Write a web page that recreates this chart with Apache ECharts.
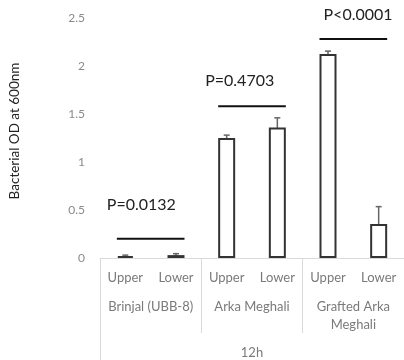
<!DOCTYPE html>
<html><head><meta charset="utf-8">
<script src="https://cdn.jsdelivr.net/npm/echarts@6/dist/echarts.min.js"></script>
<style>html,body{margin:0;padding:0;background:#fff}#c{width:404px;height:360px}</style>
</head><body><div id="c"></div>
<script>
const categories = ['Upper','Lower','Upper','Lower','Upper','Lower'];
const groups = ['Brinjal (UBB-8)','Arka Meghali','Grafted Arka\nMeghali'];
const timeLabel = ['12h'];
const means = [0.02, 0.03, 1.25, 1.36, 2.125, 0.355];
const errors = [0.01, 0.015, 0.03, 0.1, 0.03, 0.18];
const pLabels = ['P=0.0132','P=0.4703','P<0.0001'];
const pPairs = [[0,1],[2,3],[4,5]];
const pLineY = [0.2, 1.58, 2.28];
const pTextY = [0.55, 1.85, 2.53];
const yTicks = {min:0, max:2.5, interval:0.5};

const FONT = 'Lato';
const chart = echarts.init(document.getElementById('c'), null, {renderer:'canvas'});
const textDx = [-10, -13, 4];
chart.setOption({
  animation:false,
  backgroundColor:'#fff',
  grid:{left:100, top:18, bottom:102, width:309, containLabel:false},
  xAxis:[
    {type:'category', data:categories, position:'bottom',
     axisLine:{show:true, lineStyle:{color:'#d9d9d9', width:1}},
     axisTick:{show:false},
     axisLabel:{color:'#7a7a7a', fontFamily:FONT, fontSize:13, margin:13, interval:0}},
    {type:'category', data:groups, position:'bottom',
     axisLine:{show:false},
     axisTick:{show:true, length:75, interval:0, lineStyle:{color:'#d9d9d9'}},
     axisLabel:{color:'#7a7a7a', fontFamily:FONT, fontSize:13, margin:40, lineHeight:18, interval:0, verticalAlign:'top'}},
    {type:'category', data:timeLabel, position:'bottom',
     axisLine:{show:false},
     axisTick:{show:true, length:110, lineStyle:{color:'#d9d9d9'}},
     axisLabel:{color:'#7a7a7a', fontFamily:FONT, fontSize:13, margin:88}}
  ],
  yAxis:{type:'value', min:yTicks.min, max:yTicks.max, interval:yTicks.interval,
    name:'Bacterial OD at 600nm', nameLocation:'middle', nameGap:78, nameRotate:90,
    nameTextStyle:{color:'#222', fontFamily:FONT, fontSize:13.5, padding:[0,0,0,14]},
    axisLine:{show:false}, axisTick:{show:false}, splitLine:{show:false},
    axisLabel:{color:'#8a8a8a', fontFamily:FONT, fontSize:12, margin:15}},
  series:[
    {type:'bar', xAxisIndex:0, data:means, barWidth:17,
     itemStyle:{color:'#fff', borderColor:'#333', borderWidth:2}},
    {type:'custom', xAxisIndex:0, clip:false,
     data:means.map((m,i)=>[i,m,errors[i]]),
     renderItem:function(params, api){
       const i=api.value(0), m=api.value(1), e=api.value(2);
       const top=api.coord([i,m+e]), bot=api.coord([i,m-e]);
       const w=3;
       const st={stroke:'#666', lineWidth:1.5};
       return {type:'group', children:[
         {type:'line', shape:{x1:top[0],y1:top[1],x2:bot[0],y2:bot[1]}, style:st},
         {type:'line', shape:{x1:top[0]-w,y1:top[1],x2:top[0]+w,y2:top[1]}, style:st},
         {type:'line', shape:{x1:bot[0]-w,y1:bot[1],x2:bot[0]+w,y2:bot[1]}, style:st}
       ]};
     }},
    {type:'custom', xAxisIndex:0, clip:false,
     data:pPairs.map((p,k)=>[p[0],p[1],pLineY[k],pTextY[k],k]),
     renderItem:function(params, api){
       const a=api.value(0), b=api.value(1), ly=api.value(2), ty=api.value(3), k=api.value(4);
       const half=8.5;
       const p1=api.coord([a,ly]), p2=api.coord([b,ly]);
       const t=api.coord([a,ty]);
       return {type:'group', children:[
         {type:'line', shape:{x1:p1[0]-half,y1:p1[1],x2:p2[0]+half,y2:p2[1]}, style:{stroke:'#111', lineWidth:2}},
         {type:'text', x:t[0]-half+textDx[k], y:t[1], style:{text:pLabels[k], fill:'#222', font:'16px '+FONT, textAlign:'left', textVerticalAlign:'middle'}}
       ]};
     }}
  ]
});
</script></body></html>
